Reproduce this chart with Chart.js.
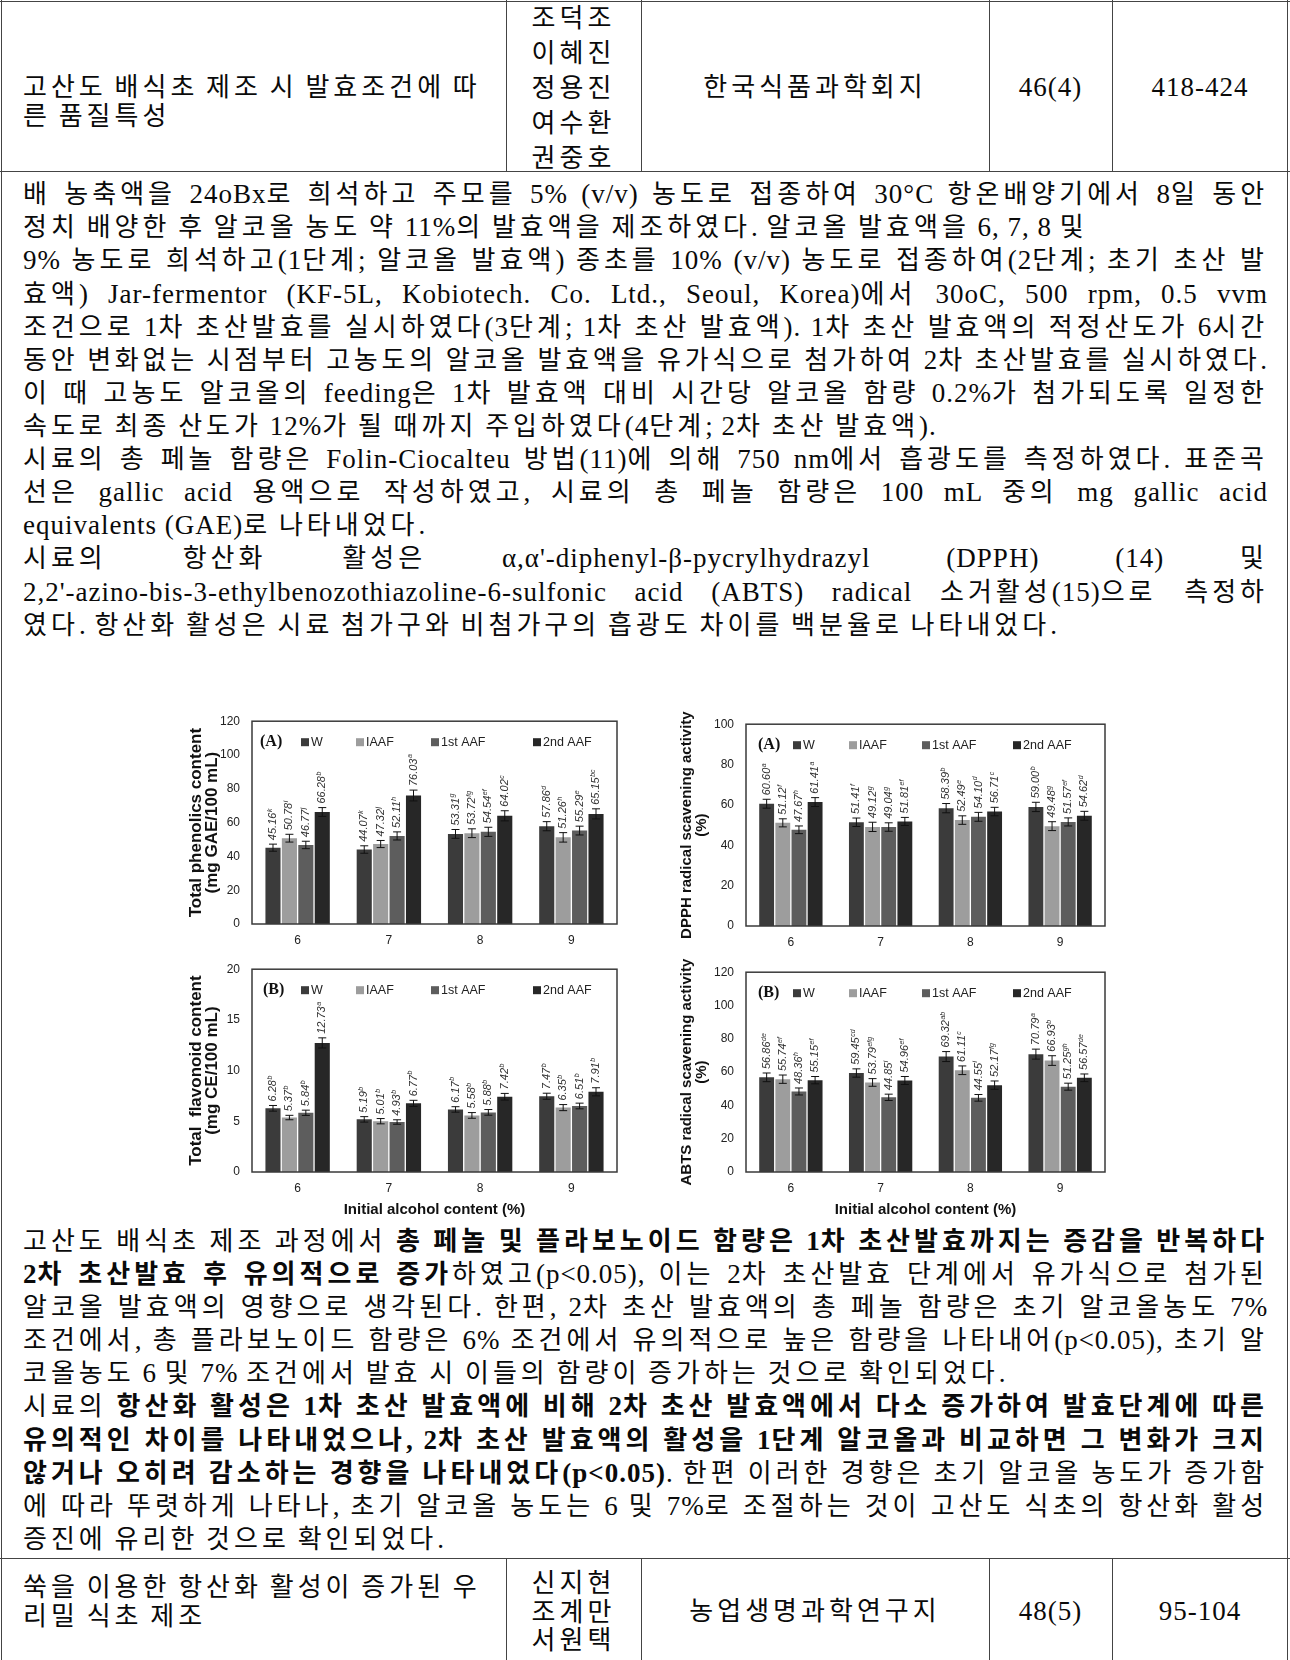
<!DOCTYPE html>
<html>
<head>
<meta charset="utf-8">
<script src="https://cdn.jsdelivr.net/npm/chart.js@4.4.1/dist/chart.umd.min.js"></script>
<style>
  body { margin: 0; background: #fff; }
  #page { position: relative; width: 1290px; height: 1660px; overflow: hidden; color: #0a0a0a;
    font-family: "Liberation Serif", "Noto Sans CJK KR", serif; font-size: 27px; }
  .hl { position: absolute; left: 0; width: 1290px; height: 0; border-top: 1.5px solid #444; }
  .vl { position: absolute; width: 0; border-left: 1.5px solid #444; }
  .ln { position: absolute; left: 23px; width: 1245px; height: 33px; line-height: 33px; white-space: nowrap; letter-spacing: 1px; }
  .cell { position: absolute; height: 33px; line-height: 33px; white-space: nowrap; text-align: center; letter-spacing: 1px; }
  .k { font-size: 26px; letter-spacing: 0; }
  b { font-weight: 700; }
  canvas { position: absolute; letter-spacing: normal; }
</style>
</head>
<body>
<div id="page">
  <!-- table frame -->
  <div class="hl" style="top:1px"></div>
  <div class="hl" style="top:171px"></div>
  <div class="hl" style="top:1558px"></div>
  <div class="vl" style="left:1px;top:0;height:1660px"></div>
  <div class="vl" style="left:1287px;top:0;height:1660px"></div>
  <div class="vl" style="left:506px;top:0;height:171px"></div>
  <div class="vl" style="left:641px;top:0;height:171px"></div>
  <div class="vl" style="left:989px;top:0;height:171px"></div>
  <div class="vl" style="left:1112px;top:0;height:171px"></div>
  <div class="vl" style="left:506px;top:1558px;height:102px"></div>
  <div class="vl" style="left:641px;top:1558px;height:102px"></div>
  <div class="vl" style="left:989px;top:1558px;height:102px"></div>
  <div class="vl" style="left:1112px;top:1558px;height:102px"></div>

  <!-- first row -->
  <div class="ln" style="top:71px">고산도 배식초 제조 시 발효조건에 따</div>
  <div class="ln" style="top:100px">른 품질특성</div>
  <div class="cell" style="left:506px;width:135px;top:2px">조덕조</div>
  <div class="cell" style="left:506px;width:135px;top:37px">이혜진</div>
  <div class="cell" style="left:506px;width:135px;top:72px">정용진</div>
  <div class="cell" style="left:506px;width:135px;top:107px">여수환</div>
  <div class="cell" style="left:506px;width:135px;top:142px">권중호</div>
  <div class="cell" style="left:641px;width:348px;top:71px">한국식품과학회지</div>
  <div class="cell" style="left:989px;width:123px;top:71px">46(4)</div>
  <div class="cell" style="left:1112px;width:176px;top:71px">418-424</div>

  <!-- methods text -->
  <div class="ln j" style="top:178px">배 농축액을 24oBx로 희석하고 주모를 5% (v/v) 농도로 접종하여 30°C 항온배양기에서 8일 동안</div>
  <div class="ln" style="top:211px">정치 배양한 후 알코올 농도 약 11%의 발효액을 제조하였다. 알코올 발효액을 6, 7, 8 및</div>
  <div class="ln j" style="top:244px">9% 농도로 희석하고(1단계; 알코올 발효액) 종초를 10% (v/v) 농도로 접종하여(2단계; 초기 초산 발</div>
  <div class="ln j" style="top:278px">효액) Jar-fermentor (KF-5L, Kobiotech. Co. Ltd., Seoul, Korea)에서 30oC, 500 rpm, 0.5 vvm</div>
  <div class="ln j" style="top:311px">조건으로 1차 초산발효를 실시하였다(3단계; 1차 초산 발효액). 1차 초산 발효액의 적정산도가 6시간</div>
  <div class="ln j" style="top:344px">동안 변화없는 시점부터 고농도의 알코올 발효액을 유가식으로 첨가하여 2차 초산발효를 실시하였다.</div>
  <div class="ln j" style="top:377px">이 때 고농도 알코올의 feeding은 1차 발효액 대비 시간당 알코올 함량 0.2%가 첨가되도록 일정한</div>
  <div class="ln" style="top:410px">속도로 최종 산도가 12%가 될 때까지 주입하였다(4단계; 2차 초산 발효액).</div>
  <div class="ln j" style="top:443px">시료의 총 페놀 함량은 Folin-Ciocalteu 방법(11)에 의해 750 nm에서 흡광도를 측정하였다. 표준곡</div>
  <div class="ln j" style="top:476px">선은 gallic acid 용액으로 작성하였고, 시료의 총 페놀 함량은 100 mL 중의 mg gallic acid</div>
  <div class="ln" style="top:509px">equivalents (GAE)로 나타내었다.</div>
  <div class="ln j" style="top:542px">시료의 항산화 활성은 α,α'-diphenyl-β-pycrylhydrazyl (DPPH) (14) 및</div>
  <div class="ln j" style="top:576px">2,2'-azino-bis-3-ethylbenozothiazoline-6-sulfonic acid (ABTS) radical 소거활성(15)으로 측정하</div>
  <div class="ln" id="probe" style="top:609px">였다. 항산화 활성은 시료 첨가구와 비첨가구의 흡광도 차이를 백분율로 나타내었다.</div>

  <canvas id="phenolics" width="441" height="248" style="left:180px;top:702px"></canvas>
  <canvas id="dpph" width="439" height="247" style="left:670px;top:705px"></canvas>
  <canvas id="flavonoid" width="441" height="268" style="left:180px;top:950px"></canvas>
  <canvas id="abts" width="439" height="265" style="left:670px;top:953px"></canvas>

  <!-- results text -->
  <div class="ln j" style="top:1225px">고산도 배식초 제조 과정에서 <b>총 페놀 및 플라보노이드 함량은 1차 초산발효까지는 증감을 반복하다</b></div>
  <div class="ln j" style="top:1258px"><b>2차 초산발효 후 유의적으로 증가</b>하였고(p&lt;0.05), 이는 2차 초산발효 단계에서 유가식으로 첨가된</div>
  <div class="ln j" style="top:1291px">알코올 발효액의 영향으로 생각된다. 한편, 2차 초산 발효액의 총 페놀 함량은 초기 알코올농도 7%</div>
  <div class="ln j" style="top:1324px">조건에서, 총 플라보노이드 함량은 6% 조건에서 유의적으로 높은 함량을 나타내어(p&lt;0.05), 초기 알</div>
  <div class="ln" style="top:1357px">코올농도 6 및 7% 조건에서 발효 시 이들의 함량이 증가하는 것으로 확인되었다.</div>
  <div class="ln j" style="top:1390px">시료의 <b>항산화 활성은 1차 초산 발효액에 비해 2차 초산 발효액에서 다소 증가하여 발효단계에 따른</b></div>
  <div class="ln j" style="top:1424px"><b>유의적인 차이를 나타내었으나, 2차 초산 발효액의 활성을 1단계 알코올과 비교하면 그 변화가 크지</b></div>
  <div class="ln j" style="top:1457px"><b>않거나 오히려 감소하는 경향을 나타내었다(p&lt;0.05)</b>. 한편 이러한 경향은 초기 알코올 농도가 증가함</div>
  <div class="ln j" style="top:1490px">에 따라 뚜렷하게 나타나, 초기 알코올 농도는 6 및 7%로 조절하는 것이 고산도 식초의 항산화 활성</div>
  <div class="ln" style="top:1523px">증진에 유리한 것으로 확인되었다.</div>

  <!-- last row -->
  <div class="ln" style="top:1571px">쑥을 이용한 항산화 활성이 증가된 우</div>
  <div class="ln" style="top:1600px">리밀 식초 제조</div>
  <div class="cell" style="left:506px;width:135px;top:1567px">신지현</div>
  <div class="cell" style="left:506px;width:135px;top:1596px">조계만</div>
  <div class="cell" style="left:506px;width:135px;top:1624px">서원택</div>
  <div class="cell" style="left:641px;width:348px;top:1595px">농업생명과학연구지</div>
  <div class="cell" style="left:989px;width:123px;top:1595px">48(5)</div>
  <div class="cell" style="left:1112px;width:176px;top:1595px">95-104</div>
</div>

<script>
// x categories: initial alcohol content (%)
const categories = ['6', '7', '8', '9']
const seriesNames = ['W', 'IAAF', '1st AAF', '2nd AAF']
const seriesColors = ['#3b3b3b', '#9d9d9d', '#5d5d5d', '#272727']

// rows: W, IAAF, 1st AAF, 2nd AAF
const phenolicsValues = [[45.16, 44.07, 53.31, 57.86], [50.78, 47.32, 53.72, 51.26], [46.77, 52.11, 54.54, 55.29], [66.28, 76.03, 64.02, 65.15]]
const phenolicsErrors = [[2.1, 2.2, 2.6, 2.7], [2.3, 2.1, 2.6, 2.8], [2.2, 2.4, 2.7, 2.6], [2.6, 3.2, 3.0, 3.0]]
const phenolicsLetters = [['k', 'k', 'g', 'd'], ['i', 'j', 'fg', 'h'], ['j', 'h', 'ef', 'e'], ['b', 'a', 'c', 'bc']]

const dpphValues = [[60.60, 51.41, 58.39, 59.00], [51.12, 49.12, 52.49, 49.48], [47.67, 49.04, 54.10, 51.57], [61.41, 51.81, 56.71, 54.62]]
const dpphErrors = [[2.2, 2.1, 2.3, 2.3], [2.0, 2.3, 2.1, 2.2], [1.9, 2.1, 2.2, 2.0], [2.2, 2.0, 2.1, 2.2]]
const dpphLetters = [['a', 'f', 'b', 'b'], ['f', 'g', 'e', 'g'], ['h', 'g', 'd', 'ef'], ['a', 'ef', 'c', 'd']]

const flavonoidValues = [[6.28, 5.19, 6.17, 7.47], [5.37, 5.01, 5.58, 6.35], [5.84, 4.93, 5.88, 6.51], [12.73, 6.77, 7.42, 7.91]]
const flavonoidErrors = [[0.28, 0.27, 0.27, 0.3], [0.22, 0.26, 0.28, 0.3], [0.26, 0.22, 0.28, 0.28], [0.5, 0.3, 0.33, 0.4]]
const flavonoidLetters = [['b', 'b', 'b', 'b'], ['b', 'b', 'b', 'b'], ['b', 'b', 'b', 'b'], ['a', 'b', 'b', 'b']]

const abtsValues = [[56.86, 59.45, 69.32, 70.79], [55.74, 53.79, 61.11, 66.93], [48.36, 44.85, 44.55, 51.25], [55.15, 54.96, 52.17, 56.57]]
const abtsErrors = [[2.6, 2.5, 3.0, 3.0], [2.5, 2.3, 2.6, 2.9], [2.1, 1.9, 2.0, 2.1], [2.2, 2.4, 2.5, 2.3]]
const abtsLetters = [['de', 'cd', 'ab', 'a'], ['ef', 'efg', 'c', 'b'], ['h', 'i', 'i', 'gh'], ['ef', 'ef', 'fg', 'de']]

const SANS = '"Liberation Sans", Arial, sans-serif'

// error bars, value labels, plot frame and the in-plot key
function decorPlugin (cfg) {
  return {
    id: 'decor',
    afterDatasetsDraw (chart) {
      const { ctx, chartArea: a, scales: { y } } = chart
      chart.data.datasets.forEach((ds, i) => {
        chart.getDatasetMeta(i).data.forEach((bar, j) => {
          const v = ds.data[j]
          const e = ds.errors[j]
          const top = y.getPixelForValue(v + e)
          const bot = y.getPixelForValue(v - e)
          ctx.save()
          ctx.strokeStyle = '#111'
          ctx.lineWidth = 1
          ctx.beginPath()
          ctx.moveTo(bar.x, top); ctx.lineTo(bar.x, bot)
          ctx.moveTo(bar.x - 4, top); ctx.lineTo(bar.x + 4, top)
          ctx.moveTo(bar.x - 4, bot); ctx.lineTo(bar.x + 4, bot)
          ctx.stroke()
          ctx.translate(bar.x, top - 4)
          ctx.rotate(-Math.PI / 2)
          ctx.fillStyle = '#333'
          ctx.textAlign = 'left'
          ctx.textBaseline = 'middle'
          ctx.font = 'italic 11px ' + SANS
          const num = v.toFixed(2)
          ctx.fillText(num, 0, 0)
          const w = ctx.measureText(num).width
          ctx.font = 'italic 7px ' + SANS
          ctx.fillText(ds.letters[j], w + 0.5, -3)
          ctx.restore()
        })
      })

      ctx.save()
      ctx.strokeStyle = '#3a3a3a'
      ctx.lineWidth = 1.5
      ctx.strokeRect(a.left, a.top, a.right - a.left, a.bottom - a.top)

      const ky = a.top + 21
      ctx.textBaseline = 'middle'
      ctx.textAlign = 'left'
      ctx.fillStyle = '#111'
      ctx.font = 'bold 16px "Liberation Serif", serif'
      ctx.fillText(cfg.panel, a.left + cfg.panelX, ky)
      ctx.font = '12.5px ' + SANS
      chart.data.datasets.forEach((ds, i) => {
        const x = a.left + cfg.keyX[i]
        ctx.fillStyle = ds.backgroundColor
        ctx.fillRect(x, ky - 4, 8, 8)
        ctx.fillStyle = '#222'
        ctx.fillText(ds.label, x + 10, ky + 0.5)
      })
      ctx.restore()
    }
  }
}

function makeChart (id, values, errors, letters, cfg) {
  return new Chart(document.getElementById(id), {
    type: 'bar',
    data: {
      labels: categories,
      datasets: seriesNames.map((name, i) => ({
        label: name,
        data: values[i],
        errors: errors[i],
        letters: letters[i],
        backgroundColor: seriesColors[i],
        barPercentage: 0.92,
        categoryPercentage: 0.72
      }))
    },
    options: {
      responsive: false,
      animation: false,
      devicePixelRatio: 1,
      layout: { padding: { top: 10, right: 4, left: 0, bottom: 0 } },
      plugins: { legend: { display: false }, tooltip: { enabled: false } },
      scales: {
        x: {
          grid: { display: false, drawTicks: false },
          border: { display: false },
          ticks: { padding: 9, color: '#222', font: { family: SANS, size: 12 } },
          title: {
            display: !!cfg.xTitle,
            text: cfg.xTitle || '',
            color: '#111',
            font: { family: SANS, size: 15, weight: 'bold', lineHeight: '16px' },
            padding: { top: 0, bottom: 0 }
          },
          afterFit: s => { s.height = cfg.xAxisH }
        },
        y: {
          min: 0,
          max: cfg.max,
          grid: { display: false, drawTicks: false },
          border: { display: false },
          ticks: { stepSize: cfg.step, padding: 12, color: '#222', font: { family: SANS, size: 12 } },
          title: {
            display: true,
            text: cfg.yTitle,
            color: '#111',
            font: { family: SANS, size: cfg.yTitleSize, weight: 'bold', lineHeight: cfg.yTitleLine + 'px' },
            padding: { top: cfg.yTitlePad, bottom: 0 }
          },
          afterFit: s => { s.width = cfg.axisW }
        }
      }
    },
    plugins: [decorPlugin(cfg)]
  })
}

makeChart('phenolics', phenolicsValues, phenolicsErrors, phenolicsLetters, {
  max: 120, step: 20, yTitle: ['Total phenolics content', '(mg GAE/100 mL)'],
  yTitleSize: 17, yTitleLine: 16, yTitlePad: 8,
  axisW: 72, xAxisH: 26, panel: '(A)', panelX: 8, keyX: [49, 104, 179, 281]
})
makeChart('dpph', dpphValues, dpphErrors, dpphLetters, {
  max: 100, step: 20, yTitle: ['DPPH radical scavening activity', '(%)'],
  yTitleSize: 15, yTitleLine: 15, yTitlePad: 9,
  axisW: 76, xAxisH: 26, panel: '(A)', panelX: 12, keyX: [47, 103, 176, 267]
})
makeChart('flavonoid', flavonoidValues, flavonoidErrors, flavonoidLetters, {
  max: 20, step: 5, yTitle: ['Total  flavonoid content', '(mg CE/100 mL)'], xTitle: 'Initial alcohol content (%)',
  yTitleSize: 17, yTitleLine: 16, yTitlePad: 8,
  axisW: 72, xAxisH: 46, panel: '(B)', panelX: 11, keyX: [49, 104, 179, 281]
})
makeChart('abts', abtsValues, abtsErrors, abtsLetters, {
  max: 120, step: 20, yTitle: ['ABTS radical scavening activity', '(%)'], xTitle: 'Initial alcohol content (%)',
  yTitleSize: 15, yTitleLine: 15, yTitlePad: 9,
  axisW: 76, xAxisH: 46, panel: '(B)', panelX: 12, keyX: [47, 103, 176, 267]
})

// Hangul runs get their own tracking, full lines are justified by word spacing
function wrapHangul (root) {
  const walker = document.createTreeWalker(root, NodeFilter.SHOW_TEXT)
  const nodes = []
  while (walker.nextNode()) nodes.push(walker.currentNode)
  nodes.forEach(n => {
    const parts = n.nodeValue.split(/([\uAC00-\uD7A3]+)/)
    if (parts.length < 2) return
    const frag = document.createDocumentFragment()
    parts.forEach((p, i) => {
      if (!p) return
      if (i % 2) {
        const s = document.createElement('span')
        s.className = 'k'
        s.textContent = p
        frag.appendChild(s)
      } else {
        frag.appendChild(document.createTextNode(p))
      }
    })
    n.parentNode.replaceChild(frag, n)
  })
}

function naturalWidth (el) {
  const r = document.createRange()
  r.selectNodeContents(el)
  return r.getBoundingClientRect().width
}
const hangulCount = el => (el.textContent.match(/[\uAC00-\uD7A3]/g) || []).length
function setTracking (el, ls) {
  el.querySelectorAll('.k').forEach(s => { s.style.letterSpacing = ls + 'px' })
}

function layoutText () {
  document.querySelectorAll('.ln, .cell').forEach(wrapHangul)
  // the last methods line runs to x = 1058 in the page
  const probe = document.getElementById('probe')
  const ls = (1035 - naturalWidth(probe)) / hangulCount(probe)
  document.querySelectorAll('.ln, .cell').forEach(el => setTracking(el, ls))
  document.querySelectorAll('.ln.j').forEach(el => {
    const gaps = (el.textContent.match(/ /g) || []).length
    let spare = 1245 - naturalWidth(el)
    if (spare < gaps * 1) {
      const lsLine = ls + (spare - gaps * 1) / hangulCount(el)
      setTracking(el, lsLine)
      spare = 1245 - naturalWidth(el)
    }
    if (gaps) el.style.wordSpacing = (spare / gaps) + 'px'
  })
}
layoutText()
</script>
</body>
</html>
